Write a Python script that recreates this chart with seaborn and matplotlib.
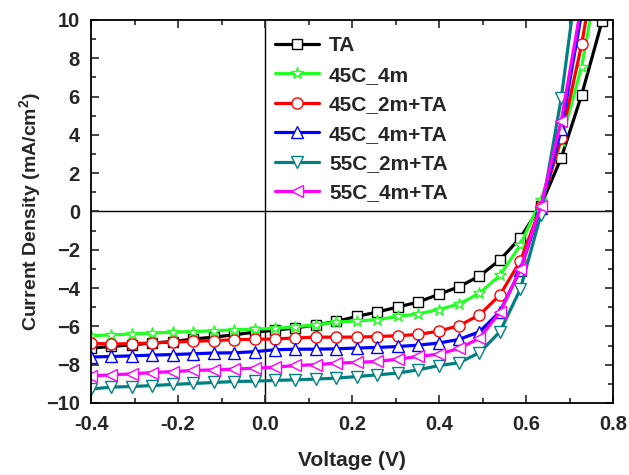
import numpy as np
import pandas as pd
import matplotlib
matplotlib.use('Agg')
import matplotlib.pyplot as plt
import seaborn as sns

# voltage sweep points (V)
voltage = [-0.400, -0.353, -0.306, -0.259, -0.212, -0.165, -0.118, -0.071, -0.024,
           0.023, 0.070, 0.117, 0.164, 0.211, 0.258, 0.305, 0.352, 0.399, 0.446,
           0.493, 0.540, 0.587, 0.634, 0.681, 0.728, 0.775]

# current density (mA/cm2)
j_ta = [-7.13, -7.05, -6.96, -6.87, -6.79, -6.66, -6.56, -6.44, -6.30,
        -6.20, -6.08, -5.92, -5.74, -5.48, -5.25, -4.99, -4.73, -4.33, -3.93,
        -3.37, -2.53, -1.37, 0.30, 2.80, 6.10, 9.95]
j_45c_4m = [-6.49, -6.44, -6.40, -6.35, -6.30, -6.27, -6.23, -6.18, -6.14,
            -6.11, -6.02, -5.92, -5.78, -5.71, -5.65, -5.48, -5.35, -5.12, -4.83,
            -4.27, -3.33, -1.75, 0.60, 3.66, 7.57, 13.5]
j_45c_2m_ta = [-6.88, -6.92, -6.90, -6.86, -6.82, -6.78, -6.74, -6.70, -6.67,
               -6.66, -6.60, -6.56, -6.56, -6.56, -6.53, -6.49, -6.42, -6.25, -5.96,
               -5.40, -4.36, -2.58, 0.25, 3.83, 8.74, 15.0]
j_45c_4m_ta = [-7.60, -7.57, -7.54, -7.50, -7.47, -7.43, -7.39, -7.38, -7.32,
               -7.22, -7.19, -7.19, -7.17, -7.13, -7.10, -7.05, -6.98, -6.87, -6.68,
               -6.28, -5.23, -3.05, 0.18, 4.30, 10.4, 16.0]
j_55c_2m_ta = [-9.27, -9.17, -9.14, -9.09, -9.03, -8.98, -8.93, -8.88, -8.86,
               -8.82, -8.79, -8.75, -8.70, -8.62, -8.53, -8.44, -8.27, -8.05, -7.90,
               -7.37, -6.28, -4.05, -0.18, 5.92, 14.0, 20.0]
j_55c_4m_ta = [-8.58, -8.53, -8.48, -8.41, -8.36, -8.30, -8.27, -8.23, -8.18,
               -8.13, -8.04, -8.00, -7.92, -7.88, -7.83, -7.71, -7.57, -7.45, -7.15,
               -6.62, -5.26, -3.02, 0.29, 4.74, 10.9, 17.0]

labels = ['TA', '45C_4m', '45C_2m+TA', '45C_4m+TA', '55C_2m+TA', '55C_4m+TA']
series = [j_ta, j_45c_4m, j_45c_2m_ta, j_45c_4m_ta, j_55c_2m_ta, j_55c_4m_ta]
colors = ['#000000', '#22ff22', '#ff0000', '#0000ff', '#008080', '#ff00ff']
markers = ['s', '*', 'o', '^', 'v', '<']
msizes = [7, 9, 8, 8, 8, 8]

sns.set_theme(style='ticks')
plt.rcParams['font.family'] = ['Liberation Sans', 'DejaVu Sans']
plt.rcParams['font.weight'] = 'bold'
plt.rcParams['mathtext.fontset'] = 'custom'
plt.rcParams['mathtext.bf'] = 'Liberation Sans:bold'
plt.rcParams['mathtext.rm'] = 'Liberation Sans:bold'
plt.rcParams['mathtext.default'] = 'bf'

fig = plt.figure(figsize=(6.29, 4.75), dpi=100)
ax = fig.add_axes([0.1447, 0.1516, 0.8299, 0.8063])

for lab, y, c, m, ms in zip(labels, series, colors, markers, msizes):
    df = pd.DataFrame({'Voltage': voltage, 'J': y})
    sns.lineplot(data=df, x='Voltage', y='J', ax=ax, color=c, marker=m, markersize=ms,
                 markerfacecolor='white', markeredgecolor=c, markeredgewidth=1.0,
                 linewidth=2.3, label=lab, sort=False)

ax.axhline(0, color='black', linewidth=1.0, zorder=0)
ax.axvline(0, color='black', linewidth=1.0, zorder=0)

ax.set_xlim(-0.4, 0.8)
ax.set_ylim(-10, 10)
ax.set_xticks(np.arange(-0.4, 0.81, 0.2))
ax.set_xticks(np.arange(-0.3, 0.8, 0.2), minor=True)
ax.set_yticks(np.arange(-10, 11, 2))
ax.set_yticks(np.arange(-9, 10, 2), minor=True)
ax.set_xticklabels(['-0.4', '-0.2', '0.0', '0.2', '0.4', '0.6', '0.8'])
ax.tick_params(which='both', direction='in', top=True, right=True, labelsize=14.5, width=1.2)
ax.tick_params(which='major', length=6)
ax.tick_params(which='minor', length=3.5)
ax.tick_params(axis='x', which='major', pad=9)
ax.tick_params(axis='y', which='major', pad=8)
for lbl in ax.get_xticklabels() + ax.get_yticklabels():
    lbl.set_fontweight('bold')
for s in ax.spines.values():
    s.set_linewidth(1.3)
    s.set_color('black')

ax.set_xlabel('Voltage (V)', fontsize=15, fontweight='bold', labelpad=12)
ax.set_ylabel(r'Current Density (mA/cm$^{2}$)', fontsize=14, fontweight='bold', labelpad=2)

ax.legend(loc='upper left', bbox_to_anchor=(0.329, 0.99), frameon=False,
          prop={'weight': 'bold', 'size': 15}, handlelength=2.1, handletextpad=0.48,
          labelspacing=0.5, borderaxespad=0.2)

fig.savefig('out.png', dpi=100)
